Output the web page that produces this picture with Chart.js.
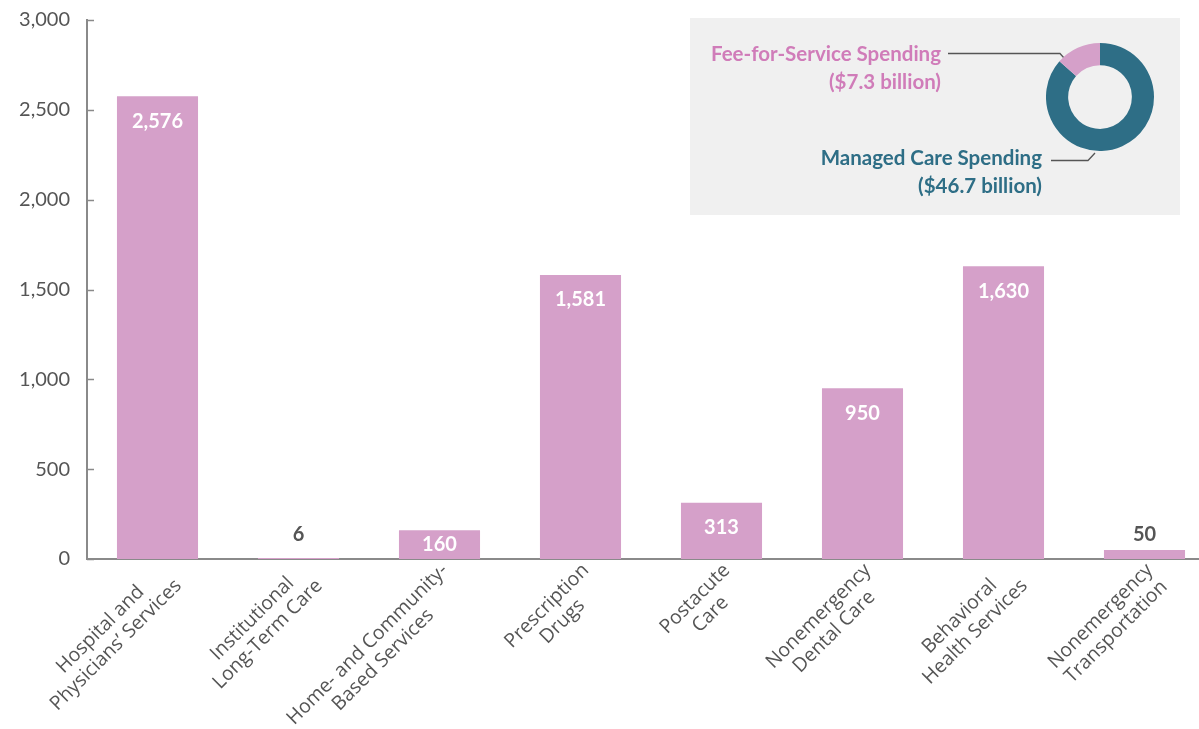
<!DOCTYPE html>
<html><head><meta charset="utf-8">
<script src="https://cdn.jsdelivr.net/npm/chart.js@4"></script>
<style>
html,body{margin:0;padding:0;overflow:hidden;background:#fff;width:1199px;height:729px}
#wrap{position:relative;width:1215px;height:729px}
#main{position:absolute;left:0;top:0}
#dwrap{position:absolute;left:1046px;top:43px;width:108px;height:108px}
</style></head><body>
<div id="wrap">
<canvas id="main" width="1215" height="729"></canvas>
<div id="dwrap"><canvas id="donut" width="108" height="108"></canvas></div>
</div>
<script>
const categories = [
  ['Hospital and','Physicians\u2019 Services'],
  ['Institutional','Long-Term Care'],
  ['Home- and Community-','Based Services'],
  ['Prescription','Drugs'],
  ['Postacute','Care'],
  ['Nonemergency','Dental Care'],
  ['Behavioral','Health Services'],
  ['Nonemergency','Transportation']
];
const spending = [2576, 6, 160, 1581, 313, 950, 1630, 50];
const yTicks = [0, 500, 1000, 1500, 2000, 2500, 3000];
const donutLabels = ['Managed Care Spending', 'Fee-for-Service Spending'];
const donutValues = [46.7, 7.3];
const donutValueText = ['($46.7 billion)', '($7.3 billion)'];

const BAR = '#d5a0c9', TEAL = '#2e6e86', PINK = '#d07cb9', AXIS = '#8a8a8a', TXT = '#555555';

const extras = {
  id: 'extras',
  beforeDraw(chart) {
    const ctx = chart.ctx;
    ctx.save();
    ctx.fillStyle = '#f0f0f0';
    ctx.fillRect(690, 18, 490, 197);
    ctx.restore();
  },
  afterDatasetsDraw(chart) {
    const ctx = chart.ctx;
    const meta = chart.getDatasetMeta(0);
    ctx.save();
    ctx.font = 'bold 20px Lato';
    ctx.textAlign = 'center';
    ctx.textBaseline = 'middle';
    meta.data.forEach((bar, i) => {
      const v = spending[i];
      const txt = v.toLocaleString('en-US');
      if (v >= 100) {
        ctx.fillStyle = '#ffffff';
        ctx.fillText(txt, bar.x, Math.min(bar.y + 25, (bar.y + bar.base) / 2));
      } else {
        ctx.fillStyle = TXT;
        ctx.fillText(txt, bar.x, Math.min(bar.y - 15, bar.base - 24));
      }
    });
    ctx.restore();
  },
  afterDraw(chart) {
    const ctx = chart.ctx;
    const xs = chart.scales.x, ys = chart.scales.y;
    ctx.save();
    ctx.strokeStyle = AXIS; ctx.lineWidth = 1.5;
    ys.ticks.forEach(t => {
      const y = Math.round(ys.getPixelForValue(t.value)) + 0.5;
      ctx.beginPath(); ctx.moveTo(xs.left, y); ctx.lineTo(xs.left + 7, y); ctx.stroke();
    });
    ctx.font = '19.5px "Open Sans"';
    ctx.fillStyle = TXT;
    ctx.textBaseline = 'middle';
    ctx.textAlign = 'center';
    const lh = 22;
    categories.forEach((lines, i) => {
      const x = xs.getPixelForValue(i);
      const W = Math.max(...lines.map(l => ctx.measureText(l).width));
      ctx.save();
      ctx.translate(x + 13, 575);
      ctx.rotate(-Math.PI / 4);
      lines.forEach((l, j) => {
        ctx.fillText(l, -W / 2, (j - (lines.length - 1) / 2) * lh);
      });
      ctx.restore();
    });
    ctx.font = 'bold 20.5px Lato';
    ctx.textAlign = 'right';
    ctx.textBaseline = 'middle';
    ctx.fillStyle = PINK;
    ctx.fillText(donutLabels[1], 941, 54);
    ctx.fillText(donutValueText[1], 941, 82);
    ctx.fillStyle = TEAL;
    ctx.fillText(donutLabels[0], 1042, 158);
    ctx.fillText(donutValueText[0], 1042, 186);
    ctx.strokeStyle = '#555'; ctx.lineWidth = 1.3;
    ctx.beginPath(); ctx.moveTo(948, 53.5); ctx.lineTo(1060, 53.5); ctx.lineTo(1064, 58); ctx.stroke();
    ctx.beginPath(); ctx.moveTo(1051, 160.5); ctx.lineTo(1088, 160.5); ctx.lineTo(1095, 153); ctx.stroke();
    ctx.restore();
  }
};

new Chart(document.getElementById('main'), {
  type: 'bar',
  data: {
    labels: categories,
    datasets: [{ data: spending, backgroundColor: BAR, barPercentage: 0.575, categoryPercentage: 1 }]
  },
  options: {
    responsive: false,
    animation: false,
    layout: { padding: { top: 20, left: 0, right: 0, bottom: 0 } },
    plugins: { legend: { display: false }, tooltip: { enabled: false } },
    scales: {
      x: {
        grid: { display: false },
        border: { color: AXIS, width: 2 },
        ticks: { display: false },
        afterFit(s) { s.height = 170; s.paddingLeft = 0; s.paddingRight = 0; }
      },
      y: {
        min: 0, max: 3000,
        afterBuildTicks(s) { s.ticks = yTicks.map(v => ({ value: v })); },
        grid: { display: false, drawTicks: false },
        border: { color: AXIS, width: 2 },
        ticks: {
          padding: 17,
          color: TXT,
          font: { family: 'Lato', size: 20 },
          callback: v => Number(v).toLocaleString('en-US')
        },
        afterFit(s) { s.width = 87; s.paddingTop = 0; s.paddingBottom = 0; }
      }
    }
  },
  plugins: [extras]
});

new Chart(document.getElementById('donut'), {
  type: 'doughnut',
  data: {
    labels: donutLabels,
    datasets: [{ data: donutValues, backgroundColor: [TEAL, BAR], borderWidth: 0 }]
  },
  options: {
    responsive: false,
    animation: false,
    cutout: '59%',
    layout: { padding: 0 },
    plugins: { legend: { display: false }, tooltip: { enabled: false } }
  }
});
</script>
</body></html>
